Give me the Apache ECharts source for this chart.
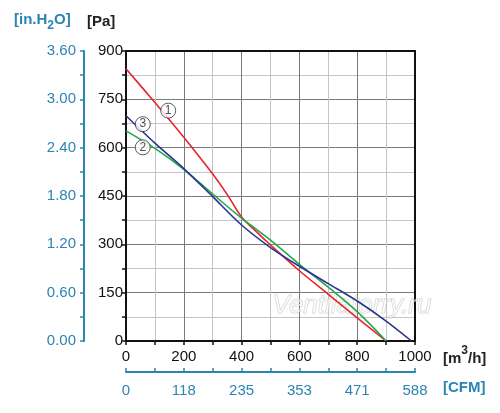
<!DOCTYPE html>
<html>
<head>
<meta charset="utf-8">
<script src="https://cdn.jsdelivr.net/npm/echarts@6/dist/echarts.min.js"></script>
<style>
  html, body { margin: 0; padding: 0; background: #fff; }
  #main { width: 500px; height: 413px; }
</style>
</head>
<body>
<div id="main"></div>
<script>
// air flow, m3/h
var flow1 = [0, 100, 200, 300, 350, 400, 450, 500, 600, 700, 800, 900];
var flow2 = [0, 100, 200, 300, 400, 500, 600, 700, 800, 900];
var flow3 = [0, 100, 200, 300, 400, 500, 600, 700, 800, 900, 988];
// static pressure, Pa
var curve1 = [845, 740, 632, 518, 455, 385, 340, 298, 218, 145, 72, 0];
var curve2 = [652, 598, 533, 456, 381, 313, 238, 167, 91, 0];
var curve3 = [699, 614, 535, 448, 360, 290, 232, 178, 124, 62, 0];
// curve number markers [flow, Pa, label]
var markers = [[146, 715, '1'], [58, 601, '2'], [58, 673, '3']];
// tick labels
var paLabels = ['0', '150', '300', '450', '600', '750', '900'];
var inH2OLabels = ['0.00', '0.60', '1.20', '1.80', '2.40', '3.00', '3.60'];
var m3hLabels = ['0', '200', '400', '600', '800', '1000'];
var cfmLabels = ['0', '118', '235', '353', '471', '588'];

var BLUE_AX = '#2a84b4';
var FONT = 'Liberation Sans, Arial, sans-serif';

function pairs(xs, ys) {
    return xs.map(function(x, i) { return [x, ys[i]]; });
}

var myChart = echarts.init(document.getElementById('main'));

var option = {
    animation: false,
    textStyle: { fontFamily: FONT },
    grid: { left: 126, right: 85, top: 51, bottom: 72 },
    xAxis: [{
        type: 'value', min: 0, max: 1000, interval: 100,
        axisLine: { onZero: false, lineStyle: { color: '#111', width: 2 } },
        axisTick: { length: 4, lineStyle: { color: '#111', width: 1.5 } },
        axisLabel: {
            margin: 8, color: '#111', fontSize: 15, fontFamily: FONT,
            formatter: function(v) { return v % 200 === 0 ? m3hLabels[v / 200] : ''; }
        },
        splitLine: { show: true, lineStyle: { color: ['#7a7a7a', '#c4c4c4'], width: 1 } }
    }, {
        type: 'value', min: 0, max: 1000, interval: 100, position: 'bottom', offset: 31,
        axisLine: { show: true, onZero: false, lineStyle: { color: BLUE_AX, width: 2 } },
        axisTick: { show: true, inside: true, length: 4, lineStyle: { color: BLUE_AX, width: 1.5 } },
        axisLabel: {
            margin: 11, color: BLUE_AX, fontSize: 15, fontFamily: FONT,
            formatter: function(v) { return v % 200 === 0 ? cfmLabels[v / 200] : ''; }
        },
        splitLine: { show: false }
    }, {
        type: 'value', min: 0, max: 1000, position: 'top',
        axisLine: { show: true, onZero: false, lineStyle: { color: '#111', width: 2 } },
        axisTick: { show: false }, axisLabel: { show: false }, splitLine: { show: false }
    }],
    yAxis: [{
        type: 'value', min: 0, max: 900, interval: 75,
        axisLine: { show: true, onZero: false, lineStyle: { color: '#111', width: 2 } },
        axisTick: { show: true, length: 4, lineStyle: { color: '#111', width: 1.5 } },
        axisLabel: {
            margin: 3, color: '#111', fontSize: 15, fontFamily: FONT,
            formatter: function(v) { return v % 150 === 0 ? paLabels[v / 150] : ''; }
        },
        splitLine: { show: true, lineStyle: { color: ['#7a7a7a', '#c4c4c4'], width: 1 } }
    }, {
        type: 'value', min: 0, max: 3.6, interval: 0.3, position: 'left', offset: 42,
        axisLine: { show: true, onZero: false, lineStyle: { color: BLUE_AX, width: 2 } },
        axisTick: { show: true, length: 4, lineStyle: { color: BLUE_AX, width: 1.5 } },
        axisLabel: {
            margin: 8, color: BLUE_AX, fontSize: 15, fontFamily: FONT,
            formatter: function(v) {
                var i = Math.round(v / 0.3);
                return i % 2 === 0 ? inH2OLabels[i / 2] : '';
            }
        },
        splitLine: { show: false }
    }, {
        type: 'value', min: 0, max: 900, position: 'right',
        axisLine: { show: true, onZero: false, lineStyle: { color: '#111', width: 2 } },
        axisTick: { show: false }, axisLabel: { show: false }, splitLine: { show: false }
    }],
    graphic: [{
        type: 'text', left: 14, top: 12,
        style: {
            text: '{a|[in.H}{s|2}{a|O]}',
            rich: {
                a: { fontSize: 15, fontWeight: 'bold', fill: BLUE_AX, fontFamily: FONT, verticalAlign: 'bottom', padding: [0, 0, 5, 0] },
                s: { fontSize: 12, fontWeight: 'bold', fill: BLUE_AX, fontFamily: FONT, verticalAlign: 'bottom' }
            }
        }
    }, {
        type: 'text', left: 87, top: 14,
        style: { text: '[Pa]', fontSize: 15, fontWeight: 'bold', fill: '#222', fontFamily: FONT }
    }, {
        type: 'text', left: 443, top: 345,
        style: {
            text: '{a|[m}{s|3}{a|/h]}',
            rich: {
                a: { fontSize: 15, fontWeight: 'bold', fill: '#222', fontFamily: FONT, verticalAlign: 'top', padding: [6, 0, 0, 0] },
                s: { fontSize: 12, fontWeight: 'bold', fill: '#222', fontFamily: FONT, verticalAlign: 'top' }
            }
        }
    }, {
        type: 'text', left: 443, top: 380,
        style: { text: '[CFM]', fontSize: 15, fontWeight: 'bold', fill: BLUE_AX, fontFamily: FONT }
    }, {
        type: 'text', left: 272, top: 292, z: 1,
        style: {
            text: 'Ventilatorry.ru', fontSize: 26, fontStyle: 'italic', fontFamily: FONT,
            fill: 'rgba(255,255,255,0.6)', stroke: 'rgba(150,150,150,0.45)', lineWidth: 1
        }
    }],
    series: [{
        name: '1', type: 'line', data: pairs(flow1, curve1), smooth: 0.3,
        symbol: 'none', lineStyle: { color: '#e8242a', width: 1.6 }, z: 3
    }, {
        name: '2', type: 'line', data: pairs(flow2, curve2), smooth: 0.3,
        symbol: 'none', lineStyle: { color: '#22a84a', width: 1.6 }, z: 3
    }, {
        name: '3', type: 'line', data: pairs(flow3, curve3), smooth: 0.3,
        symbol: 'none', lineStyle: { color: '#2b3590', width: 1.6 }, z: 3
    }, {
        type: 'scatter', z: 5,
        data: markers.map(function(m) { return { value: [m[0], m[1]], name: m[2] }; }),
        symbol: 'circle', symbolSize: 15,
        itemStyle: { color: '#fff', borderColor: '#333', borderWidth: 1 },
        label: {
            show: true, position: 'inside', formatter: '{b}',
            color: '#222', fontSize: 12, fontFamily: FONT
        }
    }]
};

myChart.setOption(option);

window.addEventListener('resize', function() {
    myChart.resize();
});
</script>
</body>
</html>
